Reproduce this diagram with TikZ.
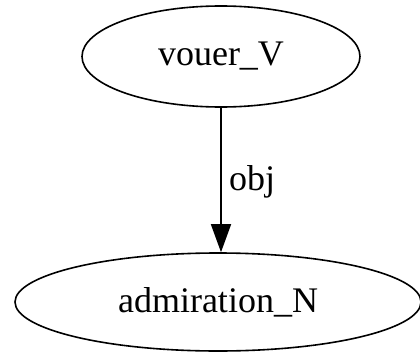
\documentclass[tikz,border=0pt]{standalone}
\usepackage{fontspec}
\setmainfont{Liberation Serif}
\usetikzlibrary{shapes.geometric,arrows.meta}
\begin{document}
\begin{tikzpicture}[x=1pt,y=-1pt,
  word/.style={draw, ellipse, line width=1.6pt, inner sep=0pt,
    font=\fontsize{36}{43}\selectfont},
  dep/.style={line width=1.6pt, -{Triangle[length=28pt,width=20pt]}},
  deplabel/.style={font=\fontsize{36}{43}\selectfont, inner sep=0pt, anchor=west}]
  \useasboundingbox (0,0) rectangle (420,353);
  \node[word, minimum width=278pt, minimum height=101pt] (verb) at (221,56.5) {vouer\_V};
  \node[word, minimum width=406pt, minimum height=98pt] (noun) at (218,302) {admiration\_N};
  \draw[dep] (verb.south) -- (verb.south |- noun.north);
  \node[deplabel] (lbl) at (229,182) {obj};
\end{tikzpicture}
\end{document}
